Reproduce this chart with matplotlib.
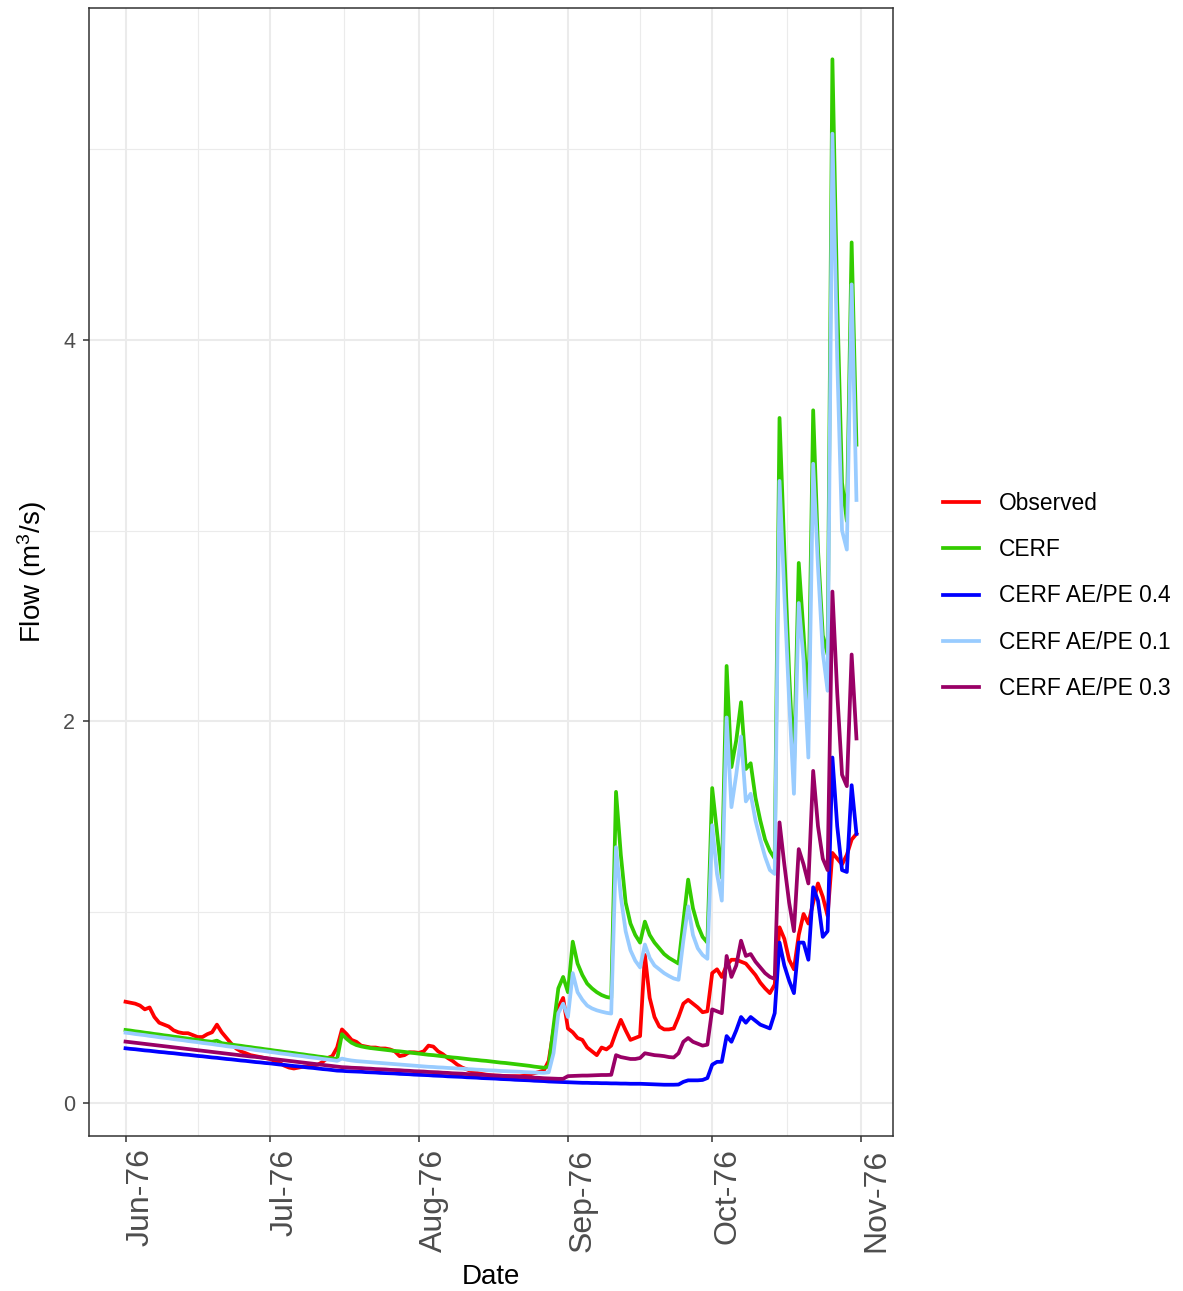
import pandas as pd
import matplotlib
matplotlib.use("Agg")
import matplotlib.pyplot as plt
import matplotlib.dates as mdates
from matplotlib.ticker import FixedLocator

plt.rcParams["font.family"] = ["Liberation Sans", "DejaVu Sans"]
plt.rcParams["mathtext.default"] = "regular"

# Daily flows (m3/s), 1 Jun 1976 - 31 Oct 1976
dates = pd.date_range("1976-06-01", "1976-10-31", freq="D")

observed = [
    0.53, 0.525, 0.52, 0.51, 0.49, 0.50, 0.45, 0.42, 0.41, 0.40,
    0.38, 0.37, 0.365, 0.365, 0.355, 0.345, 0.345, 0.36, 0.37, 0.41,
    0.37, 0.34, 0.31, 0.285, 0.27, 0.26, 0.25, 0.245, 0.24, 0.235,
    0.23, 0.22, 0.21, 0.195, 0.185, 0.18, 0.185, 0.19, 0.19, 0.195,
    0.20, 0.215, 0.235, 0.245, 0.29, 0.385, 0.36, 0.33, 0.32, 0.30,
    0.295, 0.29, 0.29, 0.285, 0.285, 0.28, 0.27, 0.245, 0.25, 0.265,
    0.265, 0.262, 0.27, 0.30, 0.295, 0.27, 0.255, 0.235, 0.22, 0.20,
    0.185, 0.175, 0.165, 0.158, 0.152, 0.148, 0.145, 0.143, 0.142, 0.141,
    0.14, 0.14, 0.14, 0.142, 0.148, 0.155, 0.162, 0.17, 0.22, 0.38,
    0.50, 0.55, 0.39, 0.37, 0.34, 0.33, 0.29, 0.27, 0.25, 0.29,
    0.28, 0.30, 0.37, 0.435, 0.38, 0.33, 0.34, 0.35, 0.775, 0.55,
    0.45, 0.40, 0.385, 0.385, 0.39, 0.45, 0.52, 0.54, 0.52, 0.50,
    0.475, 0.48, 0.68, 0.70, 0.66, 0.72, 0.75, 0.75, 0.74, 0.73,
    0.70, 0.67, 0.63, 0.60, 0.575, 0.62, 0.92, 0.86, 0.75, 0.70,
    0.88, 0.99, 0.94, 1.05, 1.15, 1.08, 0.98, 1.31, 1.28, 1.25,
    1.30, 1.38, 1.41,
]

cerf = [
    0.382, 0.379, 0.375, 0.372, 0.368, 0.365, 0.361, 0.358, 0.354, 0.351,
    0.347, 0.344, 0.340, 0.337, 0.333, 0.330, 0.326, 0.323, 0.320, 0.326,
    0.313, 0.309, 0.306, 0.302, 0.299, 0.295, 0.292, 0.288, 0.285, 0.281,
    0.278, 0.274, 0.271, 0.267, 0.264, 0.261, 0.257, 0.254, 0.250, 0.247,
    0.243, 0.240, 0.236, 0.233, 0.229, 0.36, 0.335, 0.315, 0.303, 0.296,
    0.291, 0.287, 0.284, 0.281, 0.278, 0.275, 0.272, 0.270, 0.267, 0.264,
    0.261, 0.258, 0.255, 0.252, 0.250, 0.247, 0.244, 0.241, 0.238, 0.236,
    0.233, 0.230, 0.227, 0.225, 0.222, 0.220, 0.217, 0.214, 0.211, 0.209,
    0.206, 0.203, 0.200, 0.197, 0.194, 0.190, 0.187, 0.184, 0.19, 0.40,
    0.60, 0.66, 0.58, 0.845, 0.73, 0.67, 0.625, 0.60, 0.58, 0.565,
    0.555, 0.55, 1.63, 1.30, 1.05, 0.94, 0.88, 0.84, 0.95, 0.88,
    0.84, 0.81, 0.78, 0.76, 0.745, 0.73, 0.95, 1.17, 1.02, 0.93,
    0.87, 0.84, 1.65, 1.42, 1.18, 2.29, 1.76, 1.90, 2.10, 1.75,
    1.78, 1.60, 1.48, 1.38, 1.32, 1.28, 3.59, 2.90, 2.25, 1.75,
    2.83, 2.46, 2.05, 3.63, 2.90, 2.45, 2.35, 5.47, 4.20, 3.25,
    3.05, 4.51, 3.45,
]

cerf_04 = [
    0.286, 0.283, 0.281, 0.278, 0.275, 0.273, 0.270, 0.267, 0.265, 0.262,
    0.260, 0.257, 0.254, 0.252, 0.249, 0.246, 0.244, 0.241, 0.238, 0.236,
    0.233, 0.230, 0.228, 0.225, 0.222, 0.220, 0.217, 0.214, 0.212, 0.209,
    0.207, 0.204, 0.201, 0.199, 0.196, 0.193, 0.191, 0.188, 0.185, 0.183,
    0.180, 0.177, 0.175, 0.172, 0.169, 0.168, 0.166, 0.165, 0.164, 0.163,
    0.161, 0.160, 0.159, 0.157, 0.156, 0.155, 0.154, 0.152, 0.151, 0.150,
    0.148, 0.147, 0.146, 0.145, 0.143, 0.142, 0.141, 0.139, 0.138, 0.137,
    0.136, 0.134, 0.133, 0.132, 0.130, 0.129, 0.128, 0.127, 0.125, 0.124,
    0.123, 0.121, 0.120, 0.119, 0.118, 0.116, 0.115, 0.114, 0.112, 0.111,
    0.110, 0.109, 0.108, 0.107, 0.106, 0.105, 0.105, 0.104, 0.104, 0.103,
    0.103, 0.102, 0.102, 0.101, 0.101, 0.100, 0.100, 0.100, 0.099, 0.098,
    0.097, 0.096, 0.095, 0.095, 0.095, 0.096, 0.11, 0.118, 0.118, 0.118,
    0.12, 0.13, 0.20, 0.215, 0.215, 0.35, 0.32, 0.38, 0.45, 0.42,
    0.45, 0.43, 0.41, 0.40, 0.39, 0.47, 0.84, 0.72, 0.64, 0.575,
    0.84, 0.84, 0.75, 1.13, 1.06, 0.87, 0.90, 1.81, 1.45, 1.22,
    1.21, 1.665, 1.41,
]

cerf_01 = [
    0.368, 0.365, 0.361, 0.358, 0.355, 0.351, 0.348, 0.344, 0.341, 0.338,
    0.334, 0.331, 0.328, 0.324, 0.321, 0.318, 0.314, 0.311, 0.308, 0.304,
    0.301, 0.297, 0.294, 0.291, 0.287, 0.284, 0.281, 0.277, 0.274, 0.271,
    0.267, 0.264, 0.260, 0.257, 0.254, 0.250, 0.247, 0.244, 0.240, 0.237,
    0.234, 0.230, 0.227, 0.224, 0.220, 0.232, 0.226, 0.222, 0.219, 0.217,
    0.215, 0.213, 0.211, 0.209, 0.207, 0.205, 0.203, 0.201, 0.199, 0.197,
    0.195, 0.193, 0.191, 0.189, 0.188, 0.186, 0.185, 0.183, 0.182, 0.180,
    0.179, 0.177, 0.176, 0.174, 0.173, 0.171, 0.170, 0.169, 0.167, 0.166,
    0.165, 0.164, 0.163, 0.161, 0.160, 0.159, 0.158, 0.157, 0.16, 0.26,
    0.47, 0.52, 0.45, 0.68, 0.58, 0.54, 0.51, 0.495, 0.485, 0.478,
    0.472, 0.468, 1.34, 1.08, 0.90, 0.80, 0.745, 0.71, 0.83, 0.76,
    0.72, 0.70, 0.68, 0.665, 0.652, 0.645, 0.85, 1.03, 0.88, 0.81,
    0.775, 0.755, 1.455, 1.20, 1.06, 2.02, 1.55, 1.72, 1.92, 1.58,
    1.62, 1.48, 1.38, 1.29, 1.22, 1.20, 3.26, 2.67, 2.11, 1.62,
    2.62, 2.32, 1.81, 3.35, 2.81, 2.36, 2.16, 5.08, 3.90, 3.00,
    2.90, 4.29, 3.16,
]

cerf_03 = [
    0.321, 0.318, 0.315, 0.312, 0.309, 0.306, 0.303, 0.300, 0.297, 0.294,
    0.291, 0.288, 0.285, 0.282, 0.279, 0.276, 0.273, 0.270, 0.267, 0.264,
    0.261, 0.258, 0.255, 0.252, 0.249, 0.246, 0.243, 0.241, 0.238, 0.235,
    0.232, 0.229, 0.226, 0.223, 0.220, 0.217, 0.214, 0.211, 0.208, 0.205,
    0.202, 0.199, 0.196, 0.193, 0.190, 0.187, 0.186, 0.184, 0.183, 0.182,
    0.180, 0.179, 0.177, 0.176, 0.175, 0.173, 0.172, 0.171, 0.169, 0.168,
    0.166, 0.165, 0.164, 0.162, 0.161, 0.160, 0.158, 0.157, 0.155, 0.154,
    0.153, 0.151, 0.150, 0.149, 0.147, 0.146, 0.144, 0.143, 0.142, 0.140,
    0.139, 0.138, 0.136, 0.135, 0.133, 0.132, 0.131, 0.129, 0.128, 0.127,
    0.126, 0.126, 0.140, 0.141, 0.142, 0.143, 0.143, 0.144, 0.145, 0.146,
    0.146, 0.147, 0.25, 0.24, 0.235, 0.23, 0.23, 0.235, 0.26, 0.255,
    0.25, 0.248, 0.245, 0.24, 0.238, 0.26, 0.32, 0.34, 0.32, 0.31,
    0.30, 0.305, 0.49, 0.48, 0.47, 0.77, 0.66, 0.72, 0.85, 0.77,
    0.78, 0.74, 0.71, 0.68, 0.66, 0.65, 1.47, 1.25, 1.05, 0.90,
    1.33, 1.25, 1.15, 1.74, 1.45, 1.28, 1.22, 2.68, 2.15, 1.72,
    1.66, 2.35, 1.91,
]

series = [observed, cerf, cerf_04, cerf_01, cerf_03]
labels = ["Observed", "CERF", "CERF AE/PE 0.4", "CERF AE/PE 0.1", "CERF AE/PE 0.3"]
colours = ["#FF0000", "#33CC00", "#0000FF", "#99CCFF", "#990066"]

fig = plt.figure(figsize=(11.83, 12.91), dpi=100)
ax = fig.add_axes([89 / 1183, 1 - 1136 / 1291, (893 - 89) / 1183, (1136 - 8) / 1291])

handles = []
for values, label, colour in zip(series, labels, colours):
    line, = ax.plot(dates, values, color=colour, lw=2.7, label=label, zorder=3)
    handles.append(line)

# ggplot-style 5% padding around the data
x0 = mdates.date2num(dates[0])
x1 = mdates.date2num(dates[-1])
ax.set_xlim(x0 - 0.05 * (x1 - x0), x1 + 0.05 * (x1 - x0))
lo = min(min(s) for s in series)
hi = max(max(s) for s in series)
ax.set_ylim(lo - 0.05 * (hi - lo), hi + 0.05 * (hi - lo))

months = mdates.date2num(pd.date_range("1976-06-01", "1976-11-01", freq="MS"))
ax.xaxis.set_major_locator(FixedLocator(months))
ax.xaxis.set_minor_locator(FixedLocator((months[:-1] + months[1:]) / 2))
ax.xaxis.set_major_formatter(mdates.DateFormatter("%b-%y"))
ax.yaxis.set_major_locator(FixedLocator([0, 2, 4]))
ax.yaxis.set_minor_locator(FixedLocator([1, 3, 5]))

ax.grid(which="major", color="#EBEBEB", lw=1.5, zorder=0)
ax.grid(which="minor", color="#EBEBEB", lw=0.8, zorder=0)
ax.set_axisbelow(True)
for spine in ax.spines.values():
    spine.set_color("#333333")
    spine.set_linewidth(1.1)

ax.tick_params(which="major", length=4, width=1.1, color="#333333", labelcolor="#4D4D4D")
ax.tick_params(which="minor", length=0)
ax.tick_params(axis="y", labelsize=15.5, pad=6)
ax.tick_params(axis="x", labelsize=23, pad=5)
for lab in ax.get_xticklabels():
    lab.set_rotation(90)
    lab.set_ha("left")
    lab.set_va("top")

ax.set_xlabel("Date", fontsize=20, labelpad=9)
ax.set_ylabel("Flow (m$^3$/s)", fontsize=20, labelpad=10)

fig.legend(handles, labels, loc="center left", bbox_to_anchor=(943 / 1183, 1 - 596 / 1291),
           frameon=False, borderpad=0, borderaxespad=0, handlelength=1.6,
           handletextpad=0.85, labelspacing=1.02, fontsize=16.4)

fig.savefig("out.png", dpi=100)
